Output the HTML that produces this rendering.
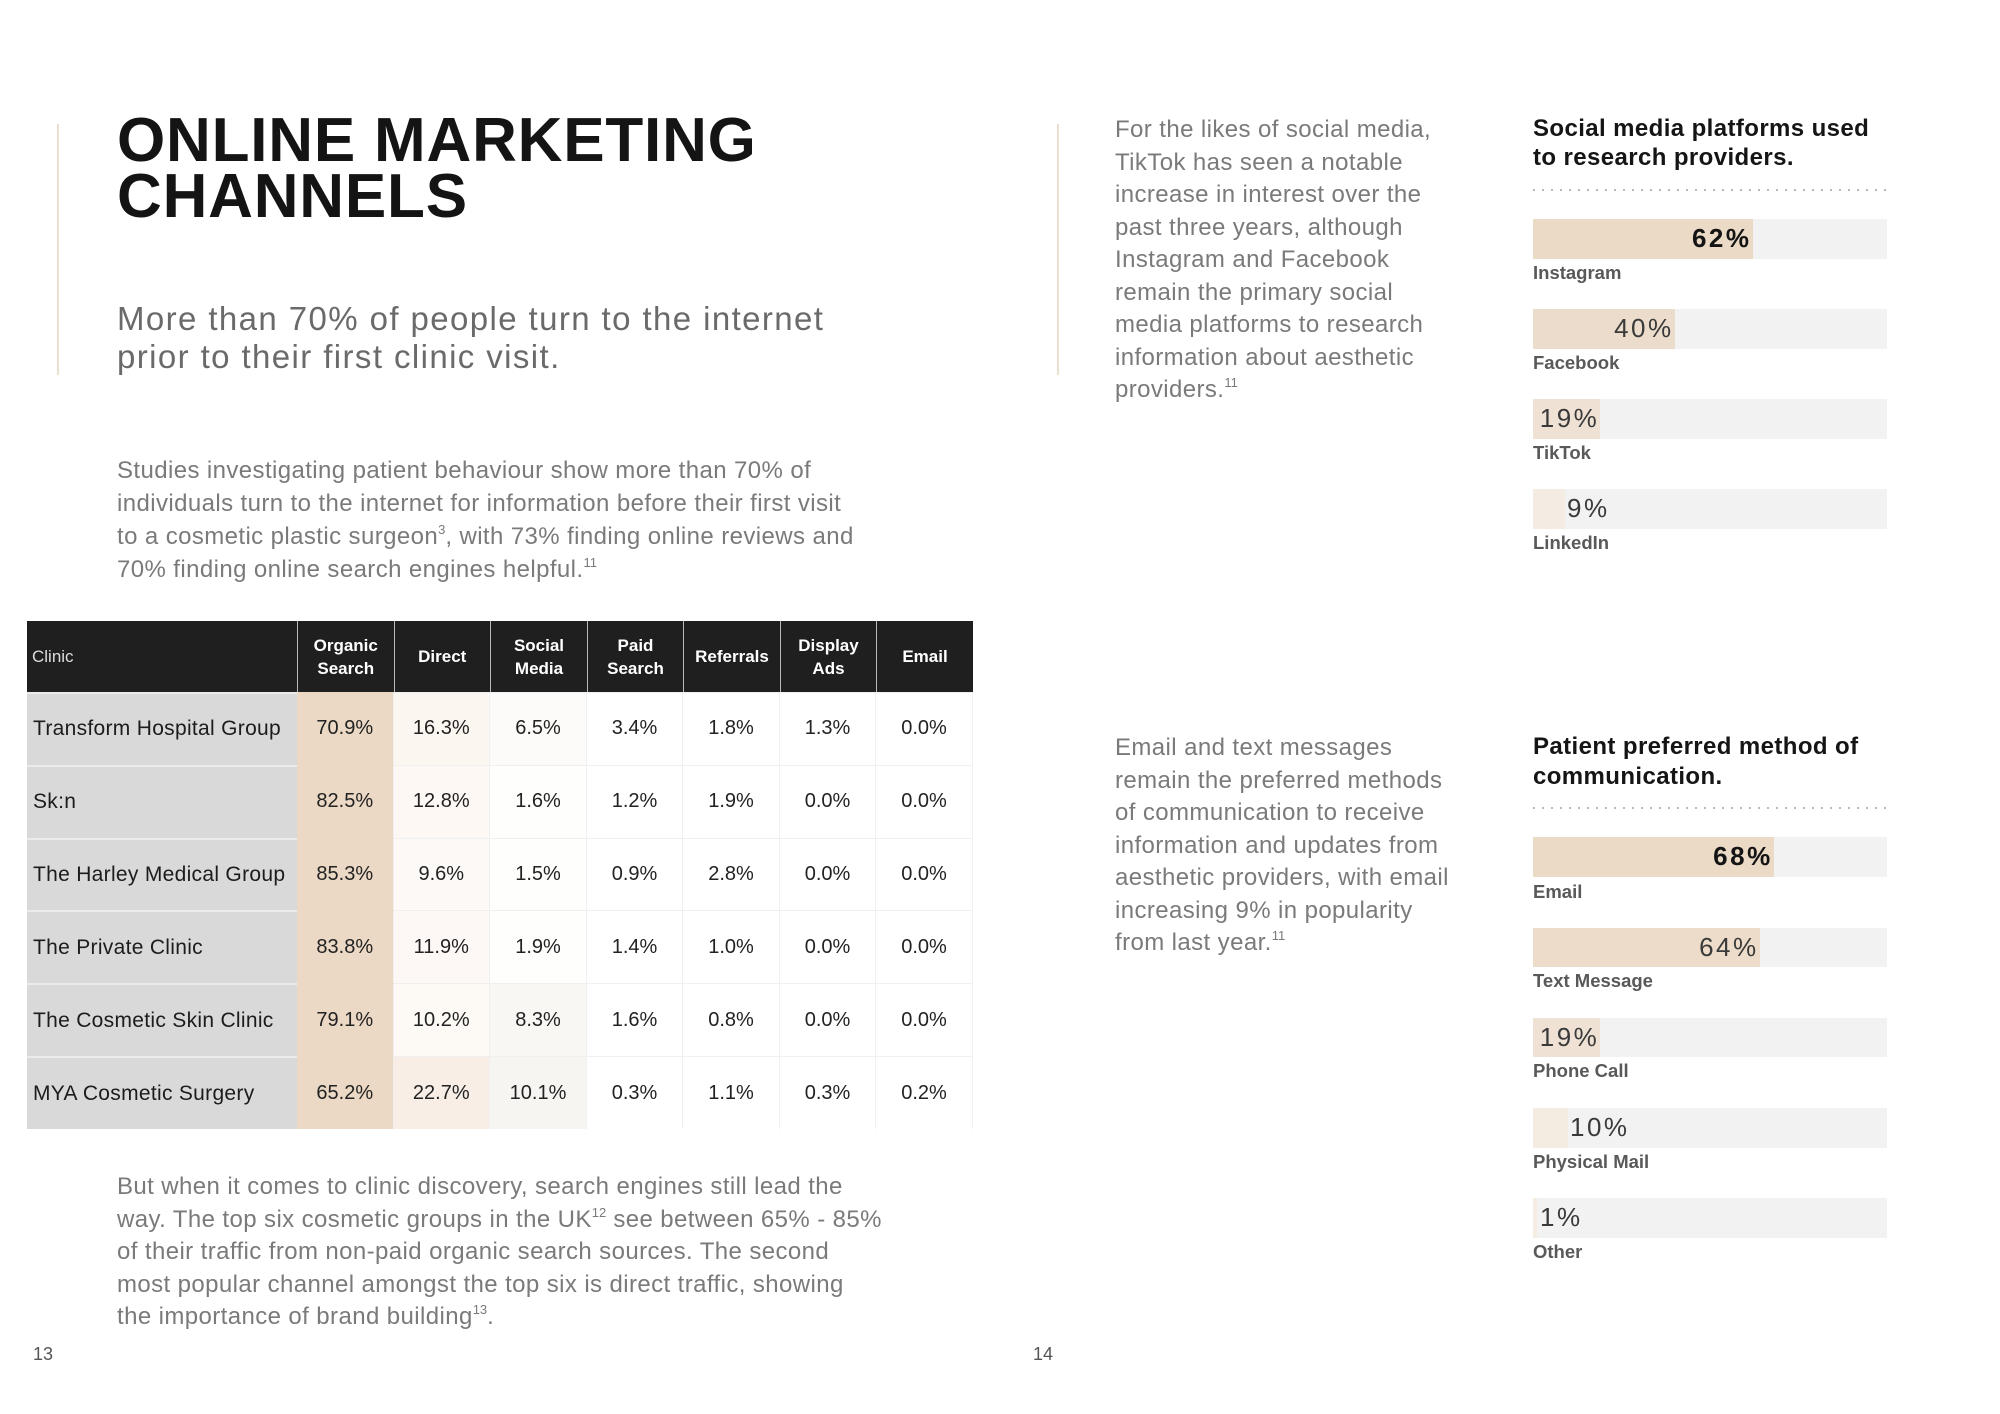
<!DOCTYPE html>
<html><head><meta charset="utf-8">
<style>
*{margin:0;padding:0;box-sizing:border-box}
html,body{width:2000px;height:1414px;background:#fff;overflow:hidden}
body{position:relative;font-family:"Liberation Sans",Arial,sans-serif}
.abs{position:absolute;white-space:nowrap}
.vline{position:absolute;width:2px;background:#eadfd0}
.title{left:117px;top:113px;font-size:62px;line-height:56px;font-weight:bold;color:#141414;letter-spacing:0.8px}
.sub{left:117px;top:300px;font-size:33px;line-height:38px;color:#6a6a6a;letter-spacing:1.4px}
.p{font-size:24px;line-height:32.5px;color:#7a7a7a;letter-spacing:0.4px}
sup{font-size:13px;line-height:0;vertical-align:10px;letter-spacing:0}
.pg{font-size:18px;line-height:20px;color:#555}
.grid{position:absolute;left:27px;top:621px;width:946px;display:grid;grid-template-columns:270px 96.5px 96.5px 97px 96px 97px 96px 97px;grid-template-rows:71px repeat(6,72.83px)}
.hc{background:#1f1f1f;color:#fff;font-weight:bold;font-size:17px;line-height:23px;text-align:center;display:flex;align-items:center;justify-content:center;border-left:1px solid #b9b9b9}
.hl{justify-content:flex-start;padding-left:5px;font-weight:normal;color:#dcdcdc;border-left:none}
.cl{background:#d9d9d9;border-top:2px solid #ebebeb;font-size:21px;color:#1c1c1c;padding-left:6px;display:flex;align-items:center;letter-spacing:0.3px;white-space:nowrap}
.d{font-size:20px;color:#222;display:flex;align-items:center;justify-content:center;border-top:1px solid #f0f0f0;border-right:1px solid #f0f0f0;background:#fff}
.o{background:#ebd9c5;border-top-color:#ebd9c5}
.ct{font-size:24px;line-height:29px;font-weight:bold;color:#151515;letter-spacing:0.4px}
.dots{position:absolute;left:1533px;width:354px;height:2px;background:repeating-linear-gradient(to right,#b8b8b8 0 2px,transparent 2px 9px)}
.track{position:absolute;left:1533px;width:354px;height:39.5px;background:#f2f2f2}
.fill{position:absolute;left:0;top:0;height:100%}
.pct{position:absolute;top:0;line-height:39.5px;font-size:26px;letter-spacing:2.5px;color:#3a3a3a;white-space:nowrap}
.pct.b{font-weight:bold;color:#141414}
.lab{position:absolute;left:1533px;font-size:18.5px;line-height:22px;font-weight:bold;color:#595959;white-space:nowrap}
</style></head>
<body>

<div class="vline" style="left:57px;top:124px;height:251px"></div>
<div class="vline" style="left:1057px;top:124px;height:251px"></div>

<div class="abs title">ONLINE MARKETING<br>CHANNELS</div>
<div class="abs sub">More than 70% of people turn to the internet<br>prior to their first clinic visit.</div>

<div class="abs p" style="left:117px;top:454px;line-height:33px">Studies investigating patient behaviour show more than 70% of<br>individuals turn to the internet for information before their first visit<br>to a cosmetic plastic surgeon<sup>3</sup>, with 73% finding online reviews and<br>70% finding online search engines helpful.<sup>11</sup></div>

<div class="grid">
<div class="hc hl">Clinic</div>
<div class="hc">Organic<br>Search</div>
<div class="hc">Direct</div>
<div class="hc">Social<br>Media</div>
<div class="hc">Paid<br>Search</div>
<div class="hc">Referrals</div>
<div class="hc">Display<br>Ads</div>
<div class="hc">Email</div>

<div class="cl">Transform Hospital Group</div>
<div class="d o">70.9%</div><div class="d" style="background:#fcf6f1">16.3%</div><div class="d" style="background:#fcfbf9">6.5%</div><div class="d">3.4%</div><div class="d">1.8%</div><div class="d">1.3%</div><div class="d">0.0%</div>

<div class="cl">Sk:n</div>
<div class="d o">82.5%</div><div class="d" style="background:#fdf8f4">12.8%</div><div class="d" style="background:#fefefd">1.6%</div><div class="d">1.2%</div><div class="d">1.9%</div><div class="d">0.0%</div><div class="d">0.0%</div>

<div class="cl">The Harley Medical Group</div>
<div class="d o">85.3%</div><div class="d" style="background:#fdf9f6">9.6%</div><div class="d" style="background:#fefefd">1.5%</div><div class="d">0.9%</div><div class="d">2.8%</div><div class="d">0.0%</div><div class="d">0.0%</div>

<div class="cl">The Private Clinic</div>
<div class="d o">83.8%</div><div class="d" style="background:#fdf8f5">11.9%</div><div class="d" style="background:#fefefd">1.9%</div><div class="d">1.4%</div><div class="d">1.0%</div><div class="d">0.0%</div><div class="d">0.0%</div>

<div class="cl">The Cosmetic Skin Clinic</div>
<div class="d o">79.1%</div><div class="d" style="background:#fdf9f5">10.2%</div><div class="d" style="background:#f9f7f4">8.3%</div><div class="d">1.6%</div><div class="d">0.8%</div><div class="d">0.0%</div><div class="d">0.0%</div>

<div class="cl">MYA Cosmetic Surgery</div>
<div class="d o">65.2%</div><div class="d" style="background:#f9eee5">22.7%</div><div class="d" style="background:#f7f5f2">10.1%</div><div class="d">0.3%</div><div class="d">1.1%</div><div class="d">0.3%</div><div class="d">0.2%</div>
</div>

<div class="abs p" style="left:117px;top:1171px">But when it comes to clinic discovery, search engines still lead the<br>way. The top six cosmetic groups in the UK<sup>12</sup> see between 65% - 85%<br>of their traffic from non-paid organic search sources. The second<br>most popular channel amongst the top six is direct traffic, showing<br>the importance of brand building<sup>13</sup>.</div>

<div class="abs pg" style="left:33px;top:1344px">13</div>
<div class="abs pg" style="left:1033px;top:1344px">14</div>

<!-- Right page -->
<div class="abs p" style="left:1115px;top:114px">For the likes of social media,<br>TikTok has seen a notable<br>increase in interest over the<br>past three years, although<br>Instagram and Facebook<br>remain the primary social<br>media platforms to research<br>information about aesthetic<br>providers.<sup>11</sup></div>

<div class="abs p" style="left:1115px;top:732px">Email and text messages<br>remain the preferred methods<br>of communication to receive<br>information and updates from<br>aesthetic providers, with email<br>increasing 9% in popularity<br>from last year.<sup>11</sup></div>

<!-- Chart 1 -->
<div class="abs ct" style="left:1533px;top:114px">Social media platforms used<br>to research providers.</div>
<div class="dots" style="top:189px"></div>

<div class="track" style="top:219px"><div class="fill" style="width:219.5px;background:#eadac6"></div><span class="pct b" style="right:135.5px">62%</span></div>
<div class="lab" style="top:262px">Instagram</div>

<div class="track" style="top:309px"><div class="fill" style="width:141.6px;background:#ecdccb"></div><span class="pct" style="right:213.4px">40%</span></div>
<div class="lab" style="top:352px">Facebook</div>

<div class="track" style="top:399px"><div class="fill" style="width:67.3px;background:#efe2d4"></div><span class="pct" style="right:287.7px">19%</span></div>
<div class="lab" style="top:442px">TikTok</div>

<div class="track" style="top:489px"><div class="fill" style="width:31.9px;background:#f4ebe2"></div><span class="pct" style="left:34px">9%</span></div>
<div class="lab" style="top:532px">LinkedIn</div>

<!-- Chart 2 -->
<div class="abs ct" style="left:1533px;top:732px;line-height:30px">Patient preferred method of<br>communication.</div>
<div class="dots" style="top:807px"></div>

<div class="track" style="top:837px"><div class="fill" style="width:240.7px;background:#eadac6"></div><span class="pct b" style="right:114.3px">68%</span></div>
<div class="lab" style="top:881px">Email</div>

<div class="track" style="top:927.5px"><div class="fill" style="width:226.6px;background:#ecdcc9"></div><span class="pct" style="right:128.4px">64%</span></div>
<div class="lab" style="top:970px">Text Message</div>

<div class="track" style="top:1017.5px"><div class="fill" style="width:67.3px;background:#efe2d4"></div><span class="pct" style="right:287.7px">19%</span></div>
<div class="lab" style="top:1060px">Phone Call</div>

<div class="track" style="top:1108px"><div class="fill" style="width:35.4px;background:#f4ebe1"></div><span class="pct" style="left:37px">10%</span></div>
<div class="lab" style="top:1151px">Physical Mail</div>

<div class="track" style="top:1198px"><div class="fill" style="width:3.5px;background:#f5ede4"></div><span class="pct" style="left:7px">1%</span></div>
<div class="lab" style="top:1241px">Other</div>

</body></html>
